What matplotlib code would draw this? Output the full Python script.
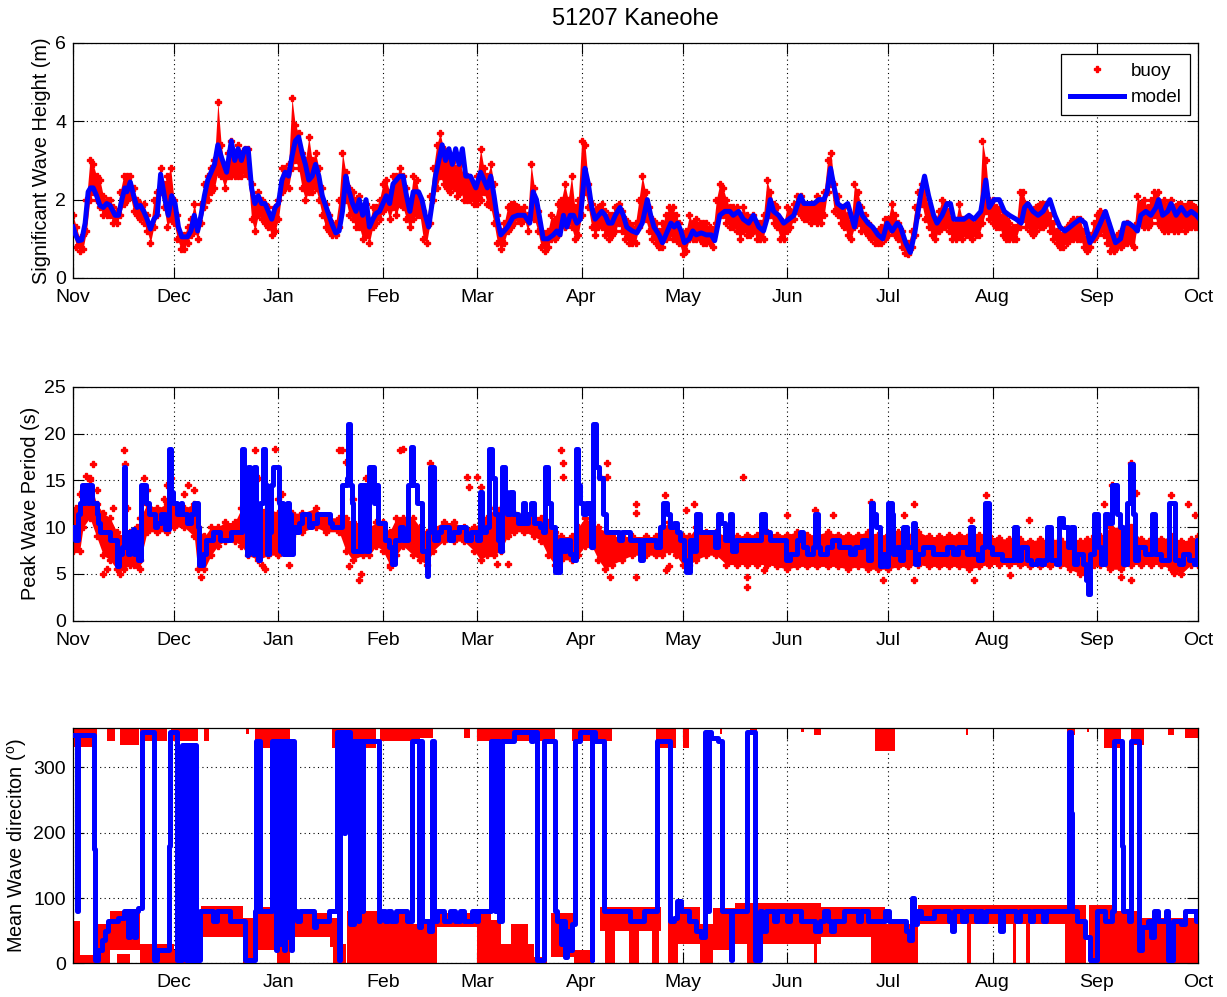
import numpy as np
import matplotlib
matplotlib.use('Agg')
import matplotlib.pyplot as plt

# fonts: condensed face for horizontal text, regular face for the rotated y labels
plt.rcParams['font.family'] = ['Liberation Sans Narrow', 'Liberation Sans', 'DejaVu Sans']
plt.rcParams['mathtext.fontset'] = 'custom'
plt.rcParams['mathtext.rm'] = 'Liberation Sans'
plt.rcParams['mathtext.it'] = 'Liberation Sans'
YLAB_FONT = ['Liberation Sans', 'DejaVu Sans']

# time axis: days since 1 Nov
month_start = [0, 30, 61, 92, 120, 151, 181, 212, 242, 273, 304, 334]
month_names = ['Nov', 'Dec', 'Jan', 'Feb', 'Mar', 'Apr', 'May', 'Jun', 'Jul', 'Aug', 'Sep', 'Oct']

# ---------------- significant wave height (m) ----------------
hs_model_day = [0, 0.8, 1.6, 2.6, 3.6, 4.5, 5.2, 6, 7, 8, 9, 10, 11, 12.5, 13.5, 14.5, 15.4, 16, 17, 18,
                19, 20, 21, 22, 23, 24, 25, 26, 27.3, 28.3, 29.3, 30.3, 31.3, 32.3, 34, 35, 36, 37, 38, 39,
                40, 41, 42, 43, 44, 45.6, 47, 48, 49, 50, 51, 52, 53, 54, 55, 56, 57, 58, 59, 60,
                61, 62, 63, 64, 65, 66, 67, 68, 69, 70, 71, 72, 73, 74, 76, 77, 78, 79, 80, 81,
                82, 83, 84, 85, 86, 87, 88, 89, 90, 91, 92, 93, 94, 95, 97, 98, 99, 100, 101, 102.6,
                103.6, 104.6, 105.6, 106.6, 107.6, 108.6, 109.6, 110.6, 111.6, 112.6, 113.6, 114.6, 115.6, 116.6, 118, 119.6, 121, 122, 123, 124,
                125, 126, 127, 128, 129, 130.6, 132, 134, 135.6, 136.6, 137.6, 138.6, 139.6, 141, 142.6, 143.6, 144.6, 145.6, 146.6, 147.6,
                148.6, 149.6, 150.6, 152, 153, 154, 155, 156, 157, 158, 159, 160, 161, 162.4, 163.4, 164.4, 166, 167.4, 169, 170.5,
                171.5, 172.5, 174, 175, 176.5, 177.5, 178.5, 179.5, 180.5, 181.5, 183, 184, 185, 186.5, 188, 189.5, 190.5, 192, 193.5, 195,
                196, 197.6, 199, 200.6, 202, 203.6, 205, 206, 207, 208, 209.5, 211, 212.5, 214, 216, 217, 219, 220, 221.4, 222.9,
                223.9, 224.9, 226, 227, 228.5, 230, 231, 232, 233.3, 234.3, 236, 237.4, 239, 240.4, 241.7, 243.2, 244.7, 245.7, 247.2, 248.6,
                250, 251.6, 252.8, 254, 255.5, 256.5, 258, 259.5, 260.5, 261.5, 263, 264.5, 266, 267.5, 269.5, 271, 272, 273.5, 275, 276.5,
                278, 280, 281.5, 282.5, 283.5, 285, 286.5, 288, 290, 291.5, 293, 294.5, 296, 297.4, 299, 300.5, 301.9, 303.4, 305, 306.5,
                308, 309.5, 311, 312, 313.5, 315, 316, 317, 318.5, 320, 321.5, 322.3, 323.5, 325, 326, 327.5, 329, 330.6, 332, 333.5, 334]
hs_model = [1.3, 1.1, 0.95, 0.97, 1.4, 2.2, 2.3, 2.3, 2.1, 1.85, 1.8, 1.9, 1.85, 1.6, 1.6, 2.0, 2.3, 2.2, 2.45, 2.1,
            1.8, 1.85, 1.7, 1.5, 1.25, 1.5, 1.6, 2.65, 2.0, 1.6, 2.1, 1.9, 1.3, 1.05, 1.05, 1.2, 1.6, 1.2, 1.6, 2.1,
            2.5, 2.7, 2.9, 3.4, 3.1, 2.7, 3.5, 3.0, 3.3, 3.0, 3.3, 3.3, 2.3, 1.9, 2.1, 1.9, 1.9, 1.7, 1.5, 1.8,
            1.9, 2.5, 2.7, 2.6, 3.1, 3.5, 3.6, 3.2, 2.9, 2.5, 2.6, 2.9, 2.6, 2.1, 1.6, 1.35, 1.15, 1.2, 1.7, 2.6,
            2.2, 1.9, 1.7, 2.0, 1.6, 2.0, 1.3, 1.5, 1.65, 1.7, 1.9, 2.1, 1.9, 2.4, 2.6, 2.6, 2.1, 1.7, 2.2, 2.2,
            2.0, 1.6, 1.3, 1.9, 2.6, 3.0, 3.4, 3.0, 3.3, 2.9, 3.3, 2.9, 3.3, 2.6, 2.6, 2.3, 2.7, 2.5, 2.3, 2.6,
            2.1, 1.5, 1.1, 1.2, 1.3, 1.55, 1.6, 1.6, 1.4, 2.2, 2.0, 1.5, 1.0, 1.0, 1.1, 1.2, 1.1, 1.6, 1.3, 1.6,
            1.6, 1.4, 1.5, 2.8, 2.4, 1.8, 1.5, 1.6, 1.7, 1.6, 1.4, 1.4, 1.6, 1.8, 1.6, 1.3, 1.2, 1.15, 1.4, 2.0,
            1.6, 1.3, 1.1, 0.9, 1.2, 1.4, 1.3, 1.4, 1.2, 0.9, 1.0, 1.2, 1.1, 1.15, 1.1, 1.1, 0.95, 1.6, 1.7, 1.7,
            1.6, 1.7, 1.5, 1.4, 1.6, 1.3, 1.2, 1.5, 2.0, 1.7, 1.6, 1.4, 1.5, 1.6, 2.1, 1.9, 1.9, 1.9, 2.0, 2.0,
            2.2, 2.8, 2.3, 1.9, 1.8, 1.9, 1.6, 1.3, 1.9, 1.6, 1.4, 1.3, 1.1, 1.0, 1.4, 1.2, 1.4, 1.3, 0.9, 0.65,
            1.2, 2.1, 2.6, 2.1, 1.6, 1.4, 1.6, 1.9, 1.9, 1.5, 1.5, 1.5, 1.6, 1.5, 1.7, 2.5, 1.8, 2.0, 2.0, 1.7,
            1.6, 1.5, 1.4, 1.8, 1.9, 1.7, 1.6, 1.7, 2.0, 1.6, 1.3, 1.2, 1.3, 1.4, 1.5, 1.4, 0.9, 1.1, 1.4, 1.7,
            1.3, 0.9, 1.0, 1.4, 1.4, 1.3, 1.2, 1.6, 1.7, 1.6, 1.8, 2.0, 1.6, 1.7, 1.9, 1.6, 1.8, 1.6, 1.7, 1.6, 1.55]

# buoy: daily low / high of the hourly readings
hs_buoy_lo = [1.2, 0.8, 0.7, 0.75, 1.2, 2.0, 2.2, 2.0, 1.8, 1.6,
              1.6, 1.6, 1.4, 1.4, 1.6, 1.9, 2.0, 2.1, 1.7, 1.6,
              1.5, 1.4, 1.2, 0.9, 1.3, 1.6, 2.2, 1.8, 1.3, 1.5,
              1.4, 1.0, 0.75, 0.75, 0.9, 1.1, 1.2, 1.0, 1.4, 1.8,
              2.0, 2.2, 2.3, 2.7, 2.6, 2.3, 2.6, 2.6, 2.6, 2.6,
              2.6, 2.7, 2.6, 1.5, 1.2, 1.6, 1.5, 1.4, 1.3, 1.1,
              1.2, 1.5, 2.2, 2.3, 2.3, 2.8, 3.0, 2.8, 2.3, 2.0,
              2.2, 2.2, 2.3, 2.0, 1.6, 1.3, 1.2, 1.1, 1.1, 1.3,
              2.0, 2.0, 1.6, 1.5, 1.3, 1.3, 1.0, 1.1, 0.9, 1.3,
              1.4, 1.5, 1.7, 1.8, 1.5, 1.8, 1.6, 1.9, 1.8, 1.5,
              1.3, 1.5, 1.6, 1.6, 1.0, 0.9, 1.4, 2.0, 2.3, 2.6,
              2.4, 2.3, 2.2, 2.3, 2.1, 2.2, 2.0, 2.0, 2.0, 1.9,
              1.9, 2.0, 2.2, 1.9, 1.8, 1.4, 0.9, 0.75, 0.9, 1.2,
              1.3, 1.4, 1.5, 1.4, 1.5, 1.2, 1.6, 1.5, 1.2, 0.8,
              0.7, 0.8, 1.0, 1.0, 1.1, 1.4, 1.3, 1.4, 1.3, 1.0,
              1.1, 1.6, 2.2, 1.8, 1.3, 1.1, 1.3, 1.3, 1.1, 1.0,
              1.1, 1.2, 1.4, 1.2, 1.0, 0.9, 0.9, 0.9, 1.3, 1.6,
              1.5, 1.2, 1.0, 0.9, 0.8, 0.8, 1.0, 1.1, 1.0, 1.0,
              0.9, 0.6, 0.7, 1.0, 1.0, 1.0, 1.0, 0.9, 0.9, 0.9,
              0.8, 1.4, 1.6, 1.6, 1.4, 1.3, 1.3, 1.2, 1.0, 1.2,
              1.1, 1.1, 1.2, 1.0, 1.0, 1.0, 1.6, 1.6, 1.4, 1.3,
              1.0, 1.0, 1.2, 1.3, 1.5, 1.7, 1.6, 1.5, 1.5, 1.4,
              1.5, 1.4, 1.4, 1.6, 2.2, 2.4, 1.7, 1.6, 1.4, 1.3,
              1.1, 1.0, 1.3, 1.4, 1.2, 1.2, 1.1, 1.0, 0.9, 0.9,
              0.9, 1.0, 1.1, 1.2, 1.1, 1.0, 0.8, 0.65, 0.6, 0.8,
              1.1, 1.6, 1.9, 1.5, 1.3, 1.1, 1.0, 1.2, 1.3, 1.3,
              1.2, 1.0, 1.0, 1.1, 1.0, 1.1, 1.1, 1.0, 1.1, 1.1,
              1.4, 1.7, 1.5, 1.4, 1.3, 1.3, 1.1, 1.0, 1.0, 1.0,
              1.0, 1.3, 1.5, 1.3, 1.2, 1.1, 1.2, 1.3, 1.3, 1.4,
              1.2, 1.0, 0.9, 0.8, 0.8, 0.9, 1.0, 1.0, 1.0, 1.0,
              0.8, 0.7, 0.8, 1.0, 1.1, 1.2, 1.1, 0.9, 0.7, 0.7,
              0.8, 0.8, 0.9, 0.9, 0.9, 0.8, 1.4, 1.4, 1.3, 1.3,
              1.4, 1.6, 1.4, 1.3, 1.2, 1.2, 1.3, 1.2, 1.2, 1.3,
              1.2, 1.3, 1.3, 1.3, 1.3]
hs_buoy_hi = [1.6, 1.3, 1.0, 1.1, 2.0, 3.0, 2.9, 2.6, 2.5, 2.1,
              2.0, 2.0, 1.8, 1.7, 2.2, 2.6, 2.6, 2.6, 2.3, 2.0,
              1.9, 1.9, 1.6, 1.3, 2.0, 2.2, 2.8, 2.4, 2.6, 2.8,
              2.0, 1.6, 1.1, 1.1, 1.3, 1.5, 1.9, 1.4, 1.9, 2.4,
              2.6, 2.8, 3.0, 4.5, 3.4, 2.8, 3.2, 3.5, 3.2, 3.4,
              3.2, 3.3, 3.3, 2.4, 2.0, 2.2, 2.0, 1.9, 1.8, 1.6,
              1.8, 2.0, 2.8, 2.8, 2.9, 4.6, 3.9, 3.7, 3.2, 3.0,
              3.6, 3.0, 3.2, 2.8, 2.3, 1.9, 1.6, 1.4, 1.4, 2.0,
              3.2, 2.7, 2.3, 2.2, 2.0, 2.1, 1.7, 1.9, 1.4, 1.8,
              1.8, 2.0, 2.4, 2.5, 2.2, 2.6, 2.6, 2.8, 2.6, 2.3,
              1.9, 2.6, 2.5, 2.0, 1.7, 1.4, 2.1, 2.8, 3.4, 3.7,
              3.3, 3.0, 2.9, 3.0, 2.8, 2.9, 2.6, 2.6, 2.5, 2.4,
              2.6, 3.3, 2.8, 2.6, 2.9, 2.4, 1.6, 1.2, 1.4, 1.8,
              1.9, 1.9, 1.8, 1.7, 1.8, 1.6, 2.9, 2.3, 1.7, 1.2,
              1.1, 1.2, 1.6, 1.5, 1.9, 2.0, 2.4, 2.0, 2.6, 1.8,
              2.0, 3.5, 3.4, 2.4, 1.9, 1.7, 1.8, 1.9, 1.7, 1.6,
              1.6, 1.8, 1.9, 1.7, 1.5, 1.4, 1.3, 1.4, 2.0, 2.6,
              2.2, 1.8, 1.5, 1.4, 1.2, 1.4, 1.6, 1.8, 1.8, 1.6,
              1.4, 1.1, 1.2, 1.6, 1.4, 1.5, 1.4, 1.4, 1.4, 1.3,
              1.2, 2.0, 2.4, 2.3, 2.0, 1.8, 1.8, 1.8, 1.6, 1.8,
              1.6, 1.5, 1.6, 1.4, 1.4, 1.6, 2.5, 2.2, 1.9, 1.8,
              1.5, 1.4, 1.8, 1.7, 1.9, 2.1, 2.1, 1.9, 1.8, 1.9,
              1.9, 2.1, 1.9, 2.2, 3.0, 3.2, 2.4, 2.1, 1.8, 1.8,
              1.6, 1.4, 2.4, 2.2, 1.8, 1.6, 1.4, 1.3, 1.2, 1.2,
              1.3, 1.5, 1.5, 1.9, 1.6, 1.4, 1.2, 0.9, 0.9, 1.2,
              1.8, 2.2, 2.4, 2.2, 1.8, 1.6, 1.5, 1.7, 2.0, 1.9,
              1.7, 1.5, 1.4, 1.9, 1.5, 1.5, 1.5, 1.4, 1.5, 1.6,
              3.5, 3.0, 2.0, 2.0, 1.8, 1.7, 1.6, 1.5, 1.4, 1.3,
              1.3, 2.2, 2.2, 1.9, 1.7, 1.7, 1.8, 1.9, 1.9, 1.9,
              1.6, 1.4, 1.2, 1.1, 1.1, 1.3, 1.4, 1.5, 1.5, 1.5,
              1.2, 1.0, 1.1, 1.4, 1.6, 1.7, 1.6, 1.4, 1.1, 1.0,
              1.1, 1.2, 1.3, 1.4, 1.3, 1.2, 2.1, 1.9, 2.0, 1.8,
              2.0, 2.2, 2.2, 1.9, 2.0, 1.9, 2.0, 1.8, 1.9, 1.9,
              1.8, 1.9, 1.9, 1.8, 1.7]

# ---------------- peak wave period (s) ----------------
tp_model_day = [0, 0.5, 1.5, 2, 2.6, 3.2, 3.5, 4.5, 4.8, 5.5, 7, 7.5, 8, 11, 13, 13.6, 14.5, 15, 15.4, 16,
                16.4, 16.8, 17.2, 17.7, 18.2, 18.7, 19.2, 20.3, 21.8, 22.5, 24.2, 25, 26, 27.3, 28.5, 29, 29.8, 31, 32, 32.5,
                33.8, 35, 36, 37, 37.5, 38.5, 39.5, 41.5, 43.5, 47, 50.3, 50.8, 51.3, 51.7, 52.1, 52.5, 52.9, 53.3, 53.8, 54.4,
                55, 55.5, 56.3, 57, 57.7, 58.2, 58.7, 59.4, 61.3, 61.6, 62, 62.4, 62.8, 63.2, 63.6, 64, 64.4, 64.8, 65.2, 66.2,
                67, 68, 70.2, 71, 72.5, 76.2, 77, 80, 81.2, 81.6, 82.2, 82.7, 83.1, 85.3, 85.8, 86.2, 87, 88, 89.5, 90,
                90.5, 92.5, 93.8, 94.8, 95.5, 97, 98, 99.5, 100.2, 101, 102, 103.5, 105, 105.5, 106, 107.3, 108.3, 109.3, 111.5, 112.8,
                114.5, 116.8, 118.3, 119.8, 120.8, 121.5, 122.6, 123.6, 124.3, 125.2, 126.2, 126.8, 127.5, 128.2, 128.7, 129.7, 130.6, 132, 133.5, 134.3,
                135, 136, 136.8, 138.5, 139.5, 140, 141, 142, 143, 144.5, 145.5, 146.5, 147.5, 148.4, 149.2, 149.9, 150.4, 151.4, 152.4, 153.4,
                153.9, 154.5, 155.3, 156.3, 157.3, 158.3, 162, 163, 165.3, 168.2, 169.2, 173.2, 174.2, 175.2, 176.2, 177.2, 178.3, 179.3, 180.3, 181.3,
                181.9, 183.1, 184.1, 185.1, 186, 190.5, 191.5, 192.5, 193.5, 195, 195.5, 196.8, 204.3, 205.3, 206.8,
                211.8, 212.8, 214.8, 215.8, 216.8, 217.8, 219.8, 220.2, 221.2, 221.8,
                223.8, 225.3, 227.3, 230.8, 232.1, 234.1, 235.6, 236.1, 236.8, 237.5,
                238.5, 239.5, 240.5, 241.3, 242, 243, 243.5, 244.5, 245.5, 246.5,
                247.5, 249.4, 249.9, 250.9, 252.4, 255.4, 259.4, 261.4, 262.8, 265.3,
                266.3, 267.3, 268.8, 269.8, 270.8, 271.8, 272.8, 275.8, 279.3, 280.3,
                281.3, 283.3, 284.3, 286.3, 287.3, 288.3, 289.3, 290.3, 291.8, 292.8,
                293.8, 295.3, 296.3, 297.2, 298.2, 299.8, 300.8, 301.3, 301.8, 303.1,
                304.3, 305.3, 306.3, 307.2, 308.5, 309.8, 310.8, 311.8, 312.8, 313.8,
                314.8, 315.3, 316.3, 318.3, 320.3, 321.3, 323, 325.3, 327.3, 328.3,
                329.4, 331.4, 332.8, 333.8, 334]
tp_model = [10, 8.6, 11.4, 12.6, 14.5, 12.6, 14.5, 12.6, 14.5, 12.6, 11.4, 10.4, 9.5, 8.6, 5.9, 7.1, 7.9, 16.4, 7.9, 9.5,
            7.1, 9.5, 7.9, 9.8, 7.1, 9.5, 6.5, 14.5, 12.6, 11.4, 10, 10.4, 11.4, 9.8, 18.4, 13.8, 12.6, 11.4, 12.6, 11.4,
            10.4, 11.4, 12.6, 10, 6, 7.1, 8.6, 9.5, 8.6, 9.5, 18.4, 14.5, 12.6, 7, 16.4, 7.5, 14.5, 7.1, 16.4, 7.1,
            6.5, 12.6, 18.4, 14.5, 7.1, 9.5, 14.5, 16.4, 12.6, 7.5, 12.6, 7.1, 11.4, 7.1, 12.6, 7.1, 11.4, 7.1, 10, 9.5,
            10.4, 11.4, 10, 10.4, 11.4, 10.4, 10, 14.5, 15.2, 21, 14.5, 12.6, 7.5, 14.5, 7.5, 14.5, 7.5, 16.4, 12.6, 14.5,
            10.4, 8.6, 7.9, 6.1, 8.6, 10, 8.6, 14.5, 18.6, 14.5, 12.6, 7.5, 4.8, 9.5, 16.4, 8.6, 9.5, 10, 8.6, 9.5,
            10, 8.6, 9.5, 8.6, 13.8, 9.5, 10, 18.4, 15.2, 11.4, 8.6, 7.5, 16.4, 13.8, 11.4, 13.8, 11.4, 10.4, 12.6, 10.4,
            11.4, 12.6, 10.4, 10, 9.5, 16.4, 12.6, 10, 5.2, 8.6, 7.5, 8.6, 7.1, 6.5, 18.4, 14.5, 12.6, 11.4, 12.6, 11.4,
            7.9, 21, 16.4, 15.2, 11.4, 9.5, 8.6, 9.5, 8.6, 6.5, 8.6, 7.9, 10, 12.6, 11.4, 10, 10.4, 9.5, 8.6, 6.5,
            5.2, 8.6, 7.5, 11.4, 9.5, 7.9, 11.4, 10.4, 8.6, 11.4, 7.5, 8.6, 11.4, 9.5, 8.6,
            6.5, 7.1, 8.6, 9.5, 7.9, 7.1, 7.9, 11.4, 7.9, 7.1,
            7.9, 8.6, 7.9, 7.1, 7.9, 8.6, 7.9, 6.5, 12.6, 11.4,
            10, 5.9, 7.1, 5.9, 12.6, 11.4, 7.1, 7.9, 6.5, 10,
            7.9, 10.4, 6.1, 7.1, 7.9, 7.1, 7.9, 7.1, 7.9, 7.1,
            10, 7.1, 6.5, 7.9, 12.6, 7.9, 7.1, 6.5, 10, 6.5,
            7.9, 6.5, 6.1, 6.5, 6.1, 6.5, 10, 6.5, 6.1, 11,
            10, 7.9, 10, 6.1, 7.1, 6.1, 4.3, 2.9, 7.1, 11.4,
            7.9, 6.1, 11.4, 10.4, 14.5, 11.4, 10, 6.1, 12.6, 16.7,
            11.4, 6.5, 7.9, 7.1, 11.4, 7.1, 6.5, 12.6, 6.5, 6.1,
            7.1, 6.5, 6.1, 8.6, 8.6]

# buoy: band of the bulk of readings, plus the scattered outliers
tp_band_day = [0, 2, 3, 5, 7, 9, 11, 13, 15, 17,
               19, 20, 22, 25, 28, 30, 33, 36, 37, 39,
               41, 43, 45, 48, 50, 52, 55, 58, 61, 63,
               65, 68, 72, 75, 79, 81, 83, 86, 88, 90,
               92, 94, 96, 98, 101, 103, 105, 107, 110, 113,
               116, 119, 121, 123, 125, 127, 129, 131, 134, 137,
               139, 141, 143, 145, 148, 150, 152, 154, 156, 158,
               160, 163, 166, 170, 173, 175, 177, 179, 181, 183,
               185, 188, 191, 194, 197, 200, 203, 206, 209, 212,
               215, 218, 221, 224, 227, 230, 233, 236, 239, 242,
               245, 248, 251, 254, 257, 260, 263, 266, 269, 272,
               275, 278, 281, 284, 287, 290, 293, 296, 299, 301,
               303, 305, 308, 311, 314, 317, 320, 323, 326, 329,
               332, 334]
tp_band_lo = [7.5, 7.5, 10, 11, 9, 7, 6.5, 5.5, 5.5, 6,
              6, 6.5, 9.5, 9.5, 9.5, 10, 10, 9, 5.5, 5.5,
              7, 8, 8.5, 8.5, 8, 7, 6.5, 7, 7, 8,
              9, 9.5, 10, 9.5, 9.5, 7.5, 6.5, 7, 7, 8,
              7.5, 6, 7, 8, 7, 6.5, 6, 7.5, 8.5, 8.5,
              8.5, 7.5, 6.5, 7, 7, 7.5, 9, 9.5, 9.5, 9,
              8.5, 7, 6, 6.5, 6.5, 7, 8, 8, 6.5, 5.5,
              6, 6.5, 7, 7, 7, 7, 7.5, 7, 6, 6,
              6.5, 7, 7, 6, 6, 6, 6, 6, 5.8, 5.5,
              5.8, 5.8, 5.8, 5.8, 5.8, 5.5, 5.8, 5.5, 5.5, 5.5,
              5.8, 5.8, 6, 5.8, 5.8, 5.8, 5.8, 5.5, 5.8, 6,
              6, 6, 6, 5.8, 5.8, 5.8, 6, 5.5, 5, 5,
              6, 6, 5.5, 5.5, 6, 6, 6, 6, 5.5, 5,
              6, 6]
tp_band_hi = [11.5, 12, 14, 15, 12.5, 11.5, 11, 9.5, 9, 9.5,
              10, 11, 12.5, 12, 12.5, 12.5, 12, 12.5, 10, 9,
              10, 10, 10.5, 10.5, 12, 13, 12, 12, 11.5, 11,
              11.5, 11.5, 12, 11, 11, 11, 10.5, 10.5, 10, 10.5,
              10.5, 9.5, 11, 11, 11, 10, 9.5, 10, 10.5, 10.5,
              10, 10, 10.5, 11, 12, 12, 12, 11.5, 11.5, 11,
              11, 10.5, 9.5, 9, 9, 10, 11, 10.5, 10, 9.5,
              9, 9, 9, 9, 9, 10, 10.5, 9.5, 9, 9,
              10, 9.5, 9.5, 9, 9, 9.2, 9.2, 9.5, 9.2, 9.2,
              9.5, 9.2, 9.2, 9.5, 9.2, 9.2, 9.2, 9.5, 9.2, 9.2,
              9.5, 9.2, 9.5, 9, 9, 9.2, 9.2, 9.2, 9.2, 9,
              8.8, 8.7, 8.7, 8.5, 8.7, 8.7, 8.7, 8.5, 8.5, 8.7,
              9, 9, 10, 10, 10, 8.7, 8.7, 8.7, 9, 8.5,
              8.7, 9]
tp_out_day = [1, 2, 4, 5, 6, 7, 9, 10, 12, 14, 15, 15.5, 16, 18, 20, 21, 22, 27, 28, 29,
              33, 34, 36, 38, 51, 54, 55, 56, 57, 60, 61, 62, 64, 79, 80, 81, 82, 83, 85, 85.5,
              87, 88, 89, 94, 97, 98, 106, 107, 117, 117.6, 120, 121, 125.8, 129, 145, 145.6, 145.6, 156.5, 158.5, 158.5,
              159.5, 167, 167, 167, 175.8, 176, 177, 182, 184.5, 199, 200, 200, 205, 212, 220.4, 225.5, 237, 240.5, 246.7, 249.6,
              249.6, 266.5, 267.5, 271, 278.3, 283.8, 306, 308.5, 311, 314, 314, 315.5, 326, 327, 331, 333]
tp_out_val = [12, 13.5, 15.5, 15.3, 16.7, 14, 5, 5.5, 12, 5, 18.2, 16.7, 12, 6, 5.5, 15.3, 14, 13, 14.5, 15.3,
              13.5, 14.5, 14, 4.7, 15.5, 18.2, 15.3, 6, 5.5, 18.3, 13, 13.5, 6, 18.2, 18.2, 17, 5.8, 13, 4.3, 5,
              15.3, 14, 13, 5.7, 18.2, 18.3, 16.8, 15, 15.4, 14.3, 15.4, 14.3, 6.1, 6.1, 18.2, 16.8, 15.4, 15.4, 16.8, 15.4,
              4.7, 4.7, 12.5, 11.5, 13.4, 5.4, 5.8, 11.8, 12.5, 15.4, 3.6, 4.7, 5.4, 11.3, 11.8, 11.3, 12.7, 4.3, 11.3, 12.5,
              4.3, 10.8, 4.3, 13.4, 4.9, 10.8, 12.5, 14.5, 4.7, 16.8, 4.3, 13.6, 13.4, 5.1, 12.5, 11.3]

# ---------------- mean wave direction (deg) ----------------
dir_model_day = [0, 1.3, 1.5, 6.2, 6.4, 7.5, 8.5, 9.5, 10.5, 13.5, 15, 16.4, 17, 18, 18.6, 19.4, 20.4, 23.9, 24.1, 25,
                 28.6, 28.8, 30.8, 32.3, 32.5, 33.4, 33.7, 34.2, 34.5, 35, 35.3, 35.8, 36.1, 36.5, 37.7, 41.7, 42.7, 45.6, 46.6, 51,
                 54, 54.3, 54.7, 55.1, 55.5, 59, 60.3, 60.6, 61.5, 61.8, 62.6, 62.9, 63.6, 63.9, 64.6, 64.9, 65.5, 66.5, 67.5, 71.5,
                 72, 72.5, 76, 78.3, 79, 79.4, 80.5, 80.7, 82.3, 82.7, 83, 83.3, 84.5, 85, 85.4, 86, 86.6, 90.7, 91.2, 92.2,
                 92.6, 93.5, 94.5, 96, 99.1, 100.6, 102.6, 103.2, 103.7, 105.6, 106.6, 107.3, 108, 110, 112, 113.5, 115, 116, 118.5, 119.5,
                 120.3, 124.1, 125.3, 125.8, 126.6, 127.4, 131, 136, 136.6, 137.7, 139.7, 143.2, 143.7, 144.8, 145.5, 146.2, 146.8, 147.5, 148.2, 149,
                 150.6, 154, 154.2, 155, 157.5, 165.5, 169.4, 173.4, 177.3, 178.5, 179.3, 180.5, 183, 185, 186.5, 187.7, 188.3, 188.8, 189.5, 191.6,
                 192.6, 195.2, 195.6, 200.1, 202.5, 204, 204.5, 205.8, 208, 209, 212, 213, 216, 220.4, 221.9, 223, 224, 225, 226, 229,
                 233, 234, 236, 241, 242.2, 247.2, 248.2, 249.2, 249.7, 250.7, 251.7, 255.6, 260, 261, 261.6, 264, 265, 268, 269, 270,
                 271, 275.3, 276, 280, 281, 284, 285, 288, 289, 295.6, 296.3, 296.5, 298, 300.4, 301.9, 304, 306.5, 308.5, 309, 311.5,
                 311.8, 313.5, 314, 316.5, 317.5, 319, 320, 321, 322, 324.5, 325, 326.5, 329, 330, 333.5, 334]
dir_model = [350, 80, 350, 175, 5, 20, 35, 50, 65, 70, 80, 40, 80, 40, 80, 85, 355, 180, 5, 20,
             180, 355, 5, 170, 335, 5, 335, 5, 335, 5, 335, 5, 335, 5, 80, 65, 80, 80, 65, 5,
             80, 340, 80, 340, 80, 340, 20, 340, 30, 340, 20, 340, 40, 340, 20, 340, 80, 65, 80, 55,
             65, 65, 80, 355, 5, 355, 200, 355, 60, 340, 60, 340, 65, 340, 80, 340, 340, 65, 80, 80,
             65, 80, 65, 80, 65, 340, 55, 340, 65, 50, 340, 65, 80, 65, 80, 65, 80, 65, 80, 65,
             80, 340, 80, 340, 65, 340, 355, 340, 355, 5, 340, 80, 65, 30, 65, 10, 50, 20, 60, 340,
             355, 5, 355, 340, 80, 65, 80, 340, 65, 70, 95, 80, 65, 50, 40, 355, 80, 355, 345, 340,
             80, 5, 80, 355, 5, 80, 50, 80, 65, 80, 65, 80, 65, 50, 65, 80, 65, 50, 65, 80,
             65, 80, 65, 80, 65, 50, 35, 100, 60, 80, 70, 80, 65, 50, 80, 65, 80, 65, 80, 65,
             80, 50, 80, 65, 80, 65, 80, 65, 80, 355, 230, 80, 65, 40, 5, 80, 65, 80, 340, 180,
             80, 65, 340, 20, 55, 65, 40, 80, 65, 80, 5, 65, 60, 80, 65, 80]

# buoy: blocks of readings near the bottom of the scale (start, end, low, high)
dir_low_start = [0, 2, 7.5, 11, 13, 20, 30, 38, 50.6, 53.6, 60.5, 64.5, 76.3, 77.3, 81.3, 92.2, 100, 108, 120, 127,
                 130, 136.7, 142, 148.6, 156.5, 158, 165, 172, 176.5, 179.5, 186, 190, 196.5, 200, 216, 220, 237, 238, 251, 265.5,
                 279, 283, 294.5, 301.6, 309.5, 316.5]
dir_low_end = [2, 7.5, 11, 20, 17, 30, 38, 50.6, 53.6, 60.5, 64.5, 76.3, 79.3, 81, 92.2, 100, 108, 124, 127, 137,
               135, 140.7, 148.6, 154.5, 174.5, 161, 168, 174, 179.5, 186, 190, 196.5, 222, 204, 241, 221, 241, 251, 295, 266.5,
               280, 284, 300.6, 309.5, 316.5, 334]
dir_low_bot = [0, 0, 0, 20, 0, 0, 0, 40, 0, 20, 0, 40, 25, 0, 0, 0, 0, 55, 0, 0,
               0, 0, 10, 0, 50, 0, 0, 0, 0, 30, 0, 20, 30, 0, 40, 0, 0, 0, 60, 0,
               0, 0, 0, 0, 0, 0]
dir_low_top = [65, 12, 60, 80, 15, 30, 20, 88, 70, 87, 66, 77, 70, 30, 80, 75, 60, 77, 66, 30,
               60, 10, 77, 20, 87, 50, 50, 50, 70, 87, 60, 85, 92, 30, 87, 40, 40, 60, 90, 60,
               60, 60, 90, 90, 80, 70]
# blocks of readings just under 360 (start, end, low)
dir_north_start = [0, 10, 14, 20, 29, 39, 51.5, 54, 77, 91, 97, 116, 120, 148, 173, 181, 192, 201, 216, 220,
                   238, 265, 295, 301, 306, 314, 325, 330]
dir_north_end = [7, 12.5, 19.5, 28, 37, 40.5, 52.3, 64.5, 90, 103, 107, 118, 143, 160, 179, 183, 192.7, 203, 217, 222,
                 244, 265.7, 297.5, 301.7, 311, 318, 327, 334]
dir_north_lo = [332, 340, 335, 340, 340, 340, 352, 330, 330, 340, 345, 345, 340, 340, 330, 330, 352, 350, 355, 350,
                325, 350, 350, 355, 330, 335, 350, 345]

RED = (1.0, 0.0, 0.0)
BLUE = (0.0, 0.0, 1.0)
MODEL_LW = 3.6

fig = plt.figure(figsize=(12.27, 9.97), dpi=100)
ax1 = fig.add_axes([0.0595, 0.7212, 0.9169, 0.2357])
ax2 = fig.add_axes([0.0595, 0.3774, 0.9169, 0.2347])
ax3 = fig.add_axes([0.0595, 0.0338, 0.9169, 0.2357])


def style_axes(ax, ylim, yticks, ylabel, nov_label=True):
    ax.set_xlim(0, 334)
    ax.set_ylim(*ylim)
    ax.set_xticks(month_start)
    labels = list(month_names)
    if not nov_label:
        labels[0] = ''
    ax.set_xticklabels(labels)
    ax.set_yticks(yticks)
    ax.grid(True, color='black', linestyle=(0, (1, 3)), linewidth=0.8)
    ax.set_axisbelow(True)
    ax.tick_params(axis='both', direction='in', length=8, width=0.8,
                   top=True, right=True, labelsize=14)
    ax.tick_params(axis='x', pad=8)
    ax.tick_params(axis='y', pad=5)
    ax.set_ylabel(ylabel, family=YLAB_FONT, fontsize=14.3, labelpad=3)
    for s in ax.spines.values():
        s.set_linewidth(0.9)


# significant wave height
days = np.arange(len(hs_buoy_lo))
ax1.fill_between(days, hs_buoy_lo, hs_buoy_hi, color=RED, linewidth=0, zorder=2)
buoy_pts, = ax1.plot(days, hs_buoy_hi, linestyle='none', marker='P', markersize=4.5,
                     color=RED, zorder=2, label='buoy')
ax1.plot(days, hs_buoy_lo, linestyle='none', marker='P', markersize=4.5, color=RED, zorder=2)
model_line, = ax1.plot(hs_model_day, hs_model, color=BLUE, linewidth=MODEL_LW, zorder=3, label='model')
style_axes(ax1, (0, 6), [0, 2, 4, 6], 'Significant Wave Height (m)')
ax1.set_title('51207 Kaneohe', fontsize=17, pad=13)
leg = ax1.legend(handles=[buoy_pts, model_line], loc='upper right', fontsize=13.5,
                 handlelength=2.9, handletextpad=0.35, borderpad=0.45, labelspacing=0.5,
                 fancybox=False, framealpha=1, edgecolor='black',
                 bbox_to_anchor=(0.993, 0.953), borderaxespad=0)
leg.get_frame().set_linewidth(0.9)

# peak wave period
ax2.fill_between(tp_band_day, tp_band_lo, tp_band_hi, color=RED, linewidth=0, zorder=2)
ax2.plot(tp_band_day, tp_band_lo, linestyle='none', marker='P', markersize=5, color=RED, zorder=2)
ax2.plot(tp_band_day, tp_band_hi, linestyle='none', marker='P', markersize=5, color=RED, zorder=2)
ax2.plot(tp_out_day, tp_out_val, linestyle='none', marker='P', markersize=5, color=RED, zorder=2)
ax2.plot(tp_model_day, tp_model, color=BLUE, linewidth=MODEL_LW, drawstyle='steps-post', zorder=3)
style_axes(ax2, (0, 25), [0, 5, 10, 15, 20, 25], 'Peak Wave Period (s)')

# mean wave direction
low_w = np.subtract(dir_low_end, dir_low_start)
low_h = np.subtract(dir_low_top, dir_low_bot)
ax3.bar(dir_low_start, low_h, width=low_w, bottom=dir_low_bot, align='edge',
        color=RED, linewidth=0, zorder=2)
north_w = np.subtract(dir_north_end, dir_north_start)
north_h = 360 - np.asarray(dir_north_lo)
ax3.bar(dir_north_start, north_h, width=north_w, bottom=dir_north_lo, align='edge',
        color=RED, linewidth=0, zorder=2)
ax3.plot(dir_model_day, dir_model, color=BLUE, linewidth=MODEL_LW, drawstyle='steps-post', zorder=3)
style_axes(ax3, (0, 360), [0, 100, 200, 300], r'Mean Wave direciton ($^{o}$)', nov_label=False)

fig.savefig('out.png', dpi=100)
